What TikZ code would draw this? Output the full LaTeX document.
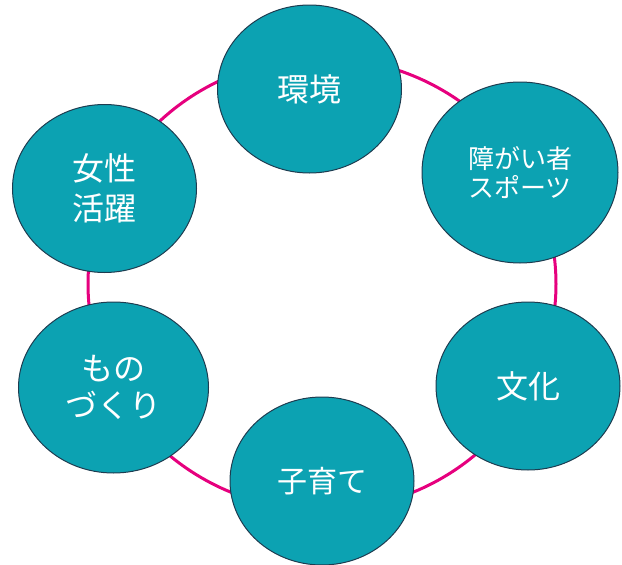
\documentclass[tikz,border=0pt]{standalone}
\usepackage{fontspec}
\newfontfamily\jp{Noto Sans CJK JP}
\usetikzlibrary{shapes.geometric}
\definecolor{tealfill}{RGB}{12,162,178}
\definecolor{ringpink}{RGB}{230,0,126}
\definecolor{rim}{RGB}{30,60,80}
\begin{document}
\begin{tikzpicture}[x=1pt,y=-1pt,
  topic/.style={ellipse, fill=tealfill, draw=rim, line width=1pt,
    minimum width=184pt, minimum height=168pt, inner sep=0pt,
    text=white, align=center, font=\jp\fontsize{32}{40}\selectfont},
  ring/.style={draw=ringpink, line width=3pt}]
\useasboundingbox (0,0) rectangle (622,565);
\coordinate (ringc) at (322,284);
\draw[ring] (ringc) ellipse [x radius=234pt, y radius=226pt];
\node[topic] (kankyo) at (309.5,89) {環境};
\node[topic, minimum width=196pt, minimum height=181pt,
  font=\jp\fontsize{26}{29}\selectfont] (sports) at (520,172.5) {障がい者\\スポーツ};
\node[topic] (bunka) at (528,386) {文化};
\node[topic, font=\jp\fontsize{30}{40}\selectfont] (kosodate) at (322,481) {子育て};
\node[topic, minimum width=190pt, minimum height=171pt,
  font=\jp\fontsize{32}{37}\selectfont] (monozukuri) at (113.5,387.5) {もの\\づくり};
\node[topic] (josei) at (104.5,188.5) {女性\\活躍};
\end{tikzpicture}
\end{document}
